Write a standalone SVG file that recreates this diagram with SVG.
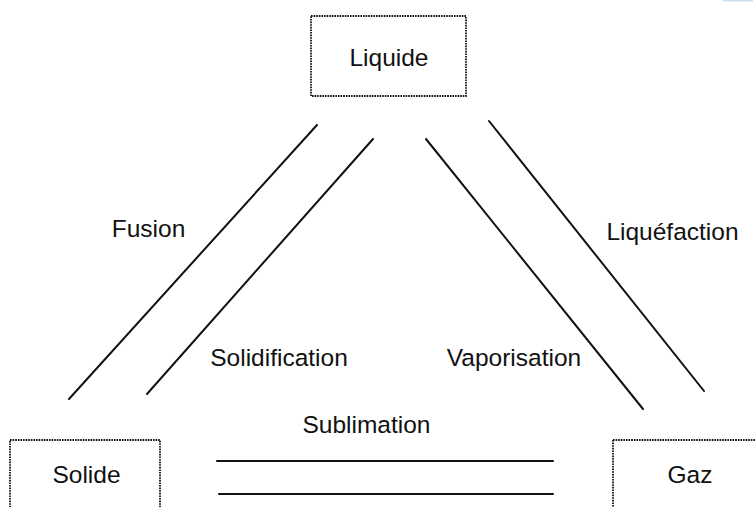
<svg xmlns="http://www.w3.org/2000/svg" width="755" height="507" viewBox="0 0 755 507">
<style>
.box{fill:none;stroke:#111;stroke-width:1.8;stroke-dasharray:1.6 1}
.lbl{font-family:"Liberation Sans",Arial,sans-serif;font-size:24.5px;fill:#111;text-anchor:middle}
.ln{stroke:#111;stroke-width:2;stroke-linecap:round}
</style>
<rect width="755" height="507" fill="#fff"/>
<rect x="723" y="0" width="30" height="1.5" fill="#cfe0f0"/>
<g id="liquide">
<rect class="box" x="311" y="16" width="155" height="80"/>
<text class="lbl" x="389" y="66">Liquide</text>
</g>
<g id="solide">
<rect class="box" x="10" y="440" width="150" height="80"/>
<text class="lbl" x="86.5" y="483">Solide</text>
</g>
<g id="gaz">
<rect class="box" x="613" y="440" width="160" height="80"/>
<text class="lbl" x="690" y="483">Gaz</text>
</g>
<g id="connectors">
<line class="ln" x1="317" y1="125" x2="69" y2="399"/>
<line class="ln" x1="373" y1="139" x2="147" y2="394"/>
<line class="ln" x1="426" y1="139" x2="643" y2="409"/>
<line class="ln" x1="489" y1="121" x2="704" y2="391"/>
<line class="ln" x1="217" y1="461" x2="553" y2="461"/>
<line class="ln" x1="219" y1="494" x2="553" y2="494"/>
<text class="lbl" x="148.5" y="237">Fusion</text>
<text class="lbl" x="279" y="366">Solidification</text>
<text class="lbl" x="514" y="366">Vaporisation</text>
<text class="lbl" x="672.5" y="240">Liquéfaction</text>
<text class="lbl" x="366.5" y="433">Sublimation</text>
</g>
</svg>
